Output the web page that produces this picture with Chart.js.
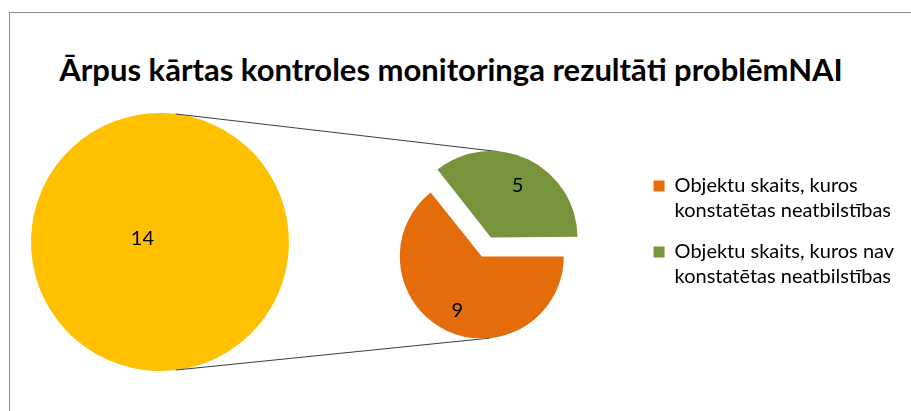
<!DOCTYPE html>
<html>
<head>
<meta charset="utf-8">
<script src="https://cdn.jsdelivr.net/npm/chart.js@4.4.1/dist/chart.umd.min.js"></script>
<style>
    html, body { margin: 0; padding: 0; background: #fff; }
    #wrap { position: relative; width: 911px; height: 411px; overflow: hidden; }
    #frame {
        position: absolute; left: 9px; top: 12px; right: -2px; bottom: -2px;
        border-left: 1px solid #8c8c8c; border-top: 1px solid #8c8c8c;
    }
    #title {
        position: absolute; left: 0; width: 902px; top: 51px;
        text-align: center; font-family: Lato, sans-serif; font-weight: bold;
        font-size: 31px; line-height: 37px; color: #000; white-space: nowrap;
    }
    canvas { position: absolute; left: 0; top: 0; }
</style>
</head>
<body>
<div id="wrap">
    <div id="frame"></div>
    <div id="title">Ārpus kārtas kontroles monitoringa rezultāti problēmNAI</div>
    <canvas id="mainPie" width="911" height="411"></canvas>
    <canvas id="subPie" width="911" height="411"></canvas>
</div>
<script>
// data
const mainLabels = ['Kopā'];
const mainValues = [14];
const subLabels = [
    ['Objektu skaits, kuros', 'konstatētas neatbilstības'],
    ['Objektu skaits, kuros nav', 'konstatētas neatbilstības']
];
const subValues = [9, 5];

const mainColors = ['#FFC000'];
const subColors = ['#E46C0A', '#77933C'];

// where the arc is actually painted (Chart.js moves exploded slices by offset/4 * (1 + fix))
function arcCenter(arc) {
    const p = arc.getProps(['x', 'y', 'startAngle', 'endAngle', 'outerRadius', 'circumference'], true);
    const mid = (p.startAngle + p.endAngle) / 2;
    const off = (arc.options.offset || 0) / 4;
    const fix = 1 - Math.sin(Math.min(Math.PI, p.circumference || 0));
    const shift = off + off * fix;
    return { x: p.x + Math.cos(mid) * shift, y: p.y + Math.sin(mid) * shift, mid: mid, r: p.outerRadius };
}

// value labels inside the slices
const sliceLabels = {
    id: 'sliceLabels',
    afterDatasetsDraw(chart, args, opts) {
        const ctx = chart.ctx;
        const meta = chart.getDatasetMeta(0);
        const values = chart.data.datasets[0].data;
        ctx.save();
        ctx.font = '20px Lato';
        ctx.fillStyle = '#000';
        ctx.textAlign = 'center';
        ctx.textBaseline = 'middle';
        meta.data.forEach((arc, i) => {
            const c = arcCenter(arc);
            const d = c.r * opts.fraction;
            ctx.fillText(String(values[i]), c.x + Math.cos(c.mid) * d, c.y + Math.sin(c.mid) * d + (opts.dy || 0));
        });
        ctx.restore();
    }
};

const mainChart = new Chart(document.getElementById('mainPie'), {
    type: 'pie',
    data: {
        labels: mainLabels,
        datasets: [{ data: mainValues, backgroundColor: mainColors, borderWidth: 0 }]
    },
    options: {
        responsive: false,
        animation: false,
        rotation: 103,
        radius: 129,
        layout: { padding: { left: 0, right: 591, top: 100, bottom: 27 } },
        plugins: {
            legend: { display: false },
            tooltip: { enabled: false },
            sliceLabels: { fraction: 0.14, dy: 1 }
        }
    },
    plugins: [sliceLabels]
});

// series lines joining the two pies
const seriesLines = {
    id: 'seriesLines',
    beforeDatasetsDraw(chart, args, opts) {
        const big = mainChart.getDatasetMeta(0).data[0];
        const arcs = chart.getDatasetMeta(0).data;
        if (!big || arcs.length < 2) return;
        const b = arcCenter(big);
        const top = arcCenter(arcs[1]);
        const bot = arcCenter(arcs[0]);
        const rad = a => a * Math.PI / 180;
        const pt = (c, a) => [c.x + Math.cos(rad(a)) * c.r, c.y + Math.sin(rad(a)) * c.r];
        const ctx = chart.ctx;
        ctx.save();
        ctx.strokeStyle = '#3c3c3c';
        ctx.lineWidth = 1;
        ctx.beginPath();
        let p = pt(b, -83), q = pt(top, -86);
        ctx.moveTo(p[0], p[1]); ctx.lineTo(q[0], q[1]);
        p = pt(b, 83); q = pt(bot, 84);
        ctx.moveTo(p[0], p[1]); ctx.lineTo(q[0], q[1]);
        ctx.stroke();
        ctx.restore();
    }
};

const subChart = new Chart(document.getElementById('subPie'), {
    type: 'pie',
    data: {
        labels: subLabels,
        datasets: [{
            data: subValues,
            backgroundColor: subColors,
            borderWidth: 0,
            offset: [0, 84]
        }]
    },
    options: {
        responsive: false,
        animation: false,
        rotation: 90,
        radius: 82,
        layout: { padding: { left: 326, right: 10, top: 160, bottom: 58 } },
        plugins: {
            legend: {
                position: 'right',
                align: 'start',
                labels: {
                    boxWidth: 11,
                    boxHeight: 11,
                    padding: 16,
                    color: '#000',
                    font: { family: 'Lato', size: 20, lineHeight: 1.25 }
                }
            },
            tooltip: { enabled: false },
            sliceLabels: { fraction: 0.69, dy: 3 }
        }
    },
    plugins: [sliceLabels, seriesLines]
});
</script>
</body>
</html>
